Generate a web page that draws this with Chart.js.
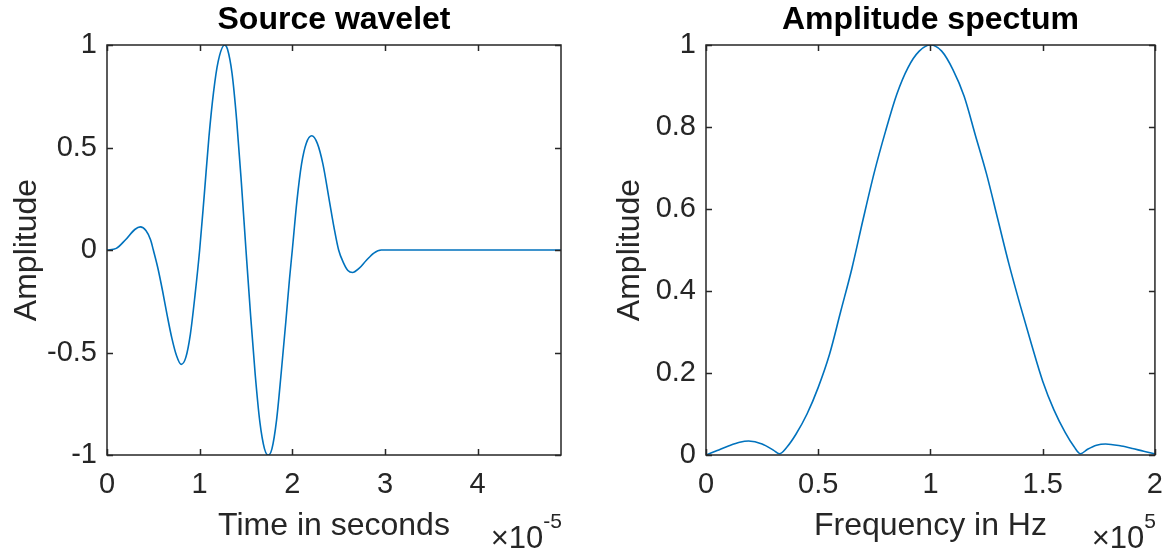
<!DOCTYPE html>
<html>
<head>
<meta charset="utf-8">
<title>Source wavelet / Amplitude spectum</title>
<script src="https://cdn.jsdelivr.net/npm/chart.js@4.4.1/dist/chart.umd.min.js"></script>
<style>
    html, body { margin: 0; padding: 0; background: #fff; }
    #wrap { position: relative; width: 1176px; height: 551px; }
    #wrap canvas { position: absolute; top: 0; }
    #wavelet-chart { left: 0; }
    #spectrum-chart { left: 588px; }
</style>
</head>
<body>
<div id="wrap">
    <canvas id="wavelet-chart" width="588" height="551"></canvas>
    <canvas id="spectrum-chart" width="588" height="551"></canvas>
</div>
<script>
// time in units of 1e-5 s (shown with the x10^-5 label)
const waveletTime = [
    0, 0.1, 0.2, 0.3, 0.36, 0.42, 0.47, 0.5, 0.55, 0.6, 0.65, 0.7, 0.75, 0.8, 0.85, 0.9, 0.95,
    1.0, 1.05, 1.1, 1.15, 1.2, 1.27, 1.3, 1.35, 1.4, 1.45, 1.5, 1.55, 1.6, 1.65, 1.7, 1.74,
    1.78, 1.83, 1.88, 1.93, 1.97, 2.0, 2.05, 2.1, 2.15, 2.21, 2.27, 2.33, 2.4, 2.45, 2.5,
    2.55, 2.6, 2.65, 2.72, 2.8, 2.88, 2.96, 3.5, 4.0, 4.5, 4.9,
];
const waveletAmplitude = [
    0, 0.008, 0.05, 0.1, 0.113, 0.095, 0.05, 0, -0.09, -0.2, -0.32, -0.43, -0.515, -0.558, -0.525, -0.41, -0.22,
    0, 0.27, 0.55, 0.77, 0.92, 1.0, 0.98, 0.86, 0.63, 0.33, 0, -0.32, -0.61, -0.84, -0.97, -1.0,
    -0.97, -0.83, -0.6, -0.35, -0.14, 0, 0.24, 0.42, 0.52, 0.557, 0.52, 0.42, 0.24, 0.11, 0,
    -0.06, -0.1, -0.11, -0.09, -0.05, -0.015, 0, 0, 0, 0, 0,
];
const waveletTicksX = [0, 1, 2, 3, 4];
const waveletTicksY = [-1, -0.5, 0, 0.5, 1];

// frequency in units of 1e5 Hz (shown with the x10^5 label)
const spectrumFreq = [
    0, 0.05, 0.1, 0.15, 0.19, 0.25, 0.3, 0.327, 0.36, 0.4, 0.45, 0.5, 0.55, 0.6, 0.65, 0.7,
    0.75, 0.8, 0.85, 0.9, 0.95, 1.0, 1.05, 1.1, 1.15, 1.2, 1.25, 1.3, 1.35, 1.4, 1.45, 1.5,
    1.55, 1.6, 1.64, 1.668, 1.7, 1.74, 1.78, 1.85, 1.9, 1.95, 2.0,
];
const spectrumAmplitude = [
    0, 0.011, 0.022, 0.031, 0.034, 0.027, 0.012, 0.003, 0.019, 0.05, 0.1, 0.165, 0.245, 0.35, 0.455, 0.575,
    0.69, 0.79, 0.88, 0.945, 0.985, 1.0, 0.985, 0.94, 0.875, 0.78, 0.685, 0.575, 0.465, 0.365, 0.27, 0.18,
    0.11, 0.055, 0.02, 0.003, 0.014, 0.024, 0.027, 0.022, 0.016, 0.009, 0.003,
];
const spectrumTicksX = [0, 0.5, 1, 1.5, 2];
const spectrumTicksY = [0, 0.2, 0.4, 0.6, 0.8, 1];

const FONT = "'Liberation Sans', Arial, Helvetica, sans-serif";
const AXIS_COLOR = "#262626";
const LINE_COLOR = "#0072BD";
const TICK_LEN = 6;

function toPoints(xs, ys) {
    return xs.map((x, i) => ({ x, y: ys[i] }));
}

// MATLAB-like box with inward ticks on all four sides, plus the exponent label
const boxAxes = {
    id: "boxAxes",
    afterDatasetsDraw(chart) {
        const { ctx, chartArea: a, scales: { x, y } } = chart;

        ctx.save();
        ctx.strokeStyle = AXIS_COLOR;
        ctx.lineWidth = 1.5;
        ctx.strokeRect(a.left, a.top, a.width, a.height);

        ctx.beginPath();
        x.ticks.forEach((t) => {
            const px = Math.round(x.getPixelForValue(t.value)) + 0.5;
            ctx.moveTo(px, a.bottom);
            ctx.lineTo(px, a.bottom - TICK_LEN);
            ctx.moveTo(px, a.top);
            ctx.lineTo(px, a.top + TICK_LEN);
        });
        y.ticks.forEach((t) => {
            const py = Math.round(y.getPixelForValue(t.value)) + 0.5;
            ctx.moveTo(a.left, py);
            ctx.lineTo(a.left + TICK_LEN, py);
            ctx.moveTo(a.right, py);
            ctx.lineTo(a.right - TICK_LEN, py);
        });
        ctx.stroke();
        ctx.restore();
    },
    afterDraw(chart, args, opts) {
        if (!opts.exponent) {
            return;
        }

        const { ctx, chartArea: a } = chart;
        const baseFont = `31px ${FONT}`;
        const supFont = `21px ${FONT}`;

        ctx.save();
        ctx.fillStyle = AXIS_COLOR;
        ctx.textBaseline = "alphabetic";
        ctx.font = supFont;
        const supWidth = ctx.measureText(opts.exponent).width;
        ctx.font = baseFont;
        const baseWidth = ctx.measureText("\u00d710").width;

        const right = a.right + 1;
        ctx.textAlign = "left";
        ctx.fillText("\u00d710", right - supWidth - baseWidth, 548);
        ctx.font = supFont;
        ctx.fillText(opts.exponent, right - supWidth, 528);
        ctx.restore();
    },
};

function makeChart(canvasId, cfg) {
    const canvas = document.getElementById(canvasId);

    return new Chart(canvas, {
        type: "scatter",
        data: {
            datasets: [
                {
                    data: toPoints(cfg.xs, cfg.ys),
                    showLine: true,
                    borderColor: LINE_COLOR,
                    borderWidth: 1.6,
                    pointRadius: 0,
                    cubicInterpolationMode: "monotone",
                    fill: false,
                },
            ],
        },
        options: {
            responsive: false,
            animation: false,
            layout: { padding: { top: 0, right: cfg.padRight, bottom: 0, left: 0 } },
            plugins: {
                legend: { display: false },
                tooltip: { enabled: false },
                title: {
                    display: true,
                    text: cfg.title,
                    fullSize: false,
                    color: "#000",
                    font: { family: FONT, size: 32, weight: "bold", lineHeight: 1.2 },
                    padding: { top: 1, bottom: 5.6 },
                },
                boxAxes: { exponent: cfg.exponent },
            },
            scales: {
                x: {
                    type: "linear",
                    min: cfg.xMin,
                    max: cfg.xMax,
                    grid: { display: false, drawTicks: false },
                    border: { display: false },
                    afterBuildTicks(scale) {
                        scale.ticks = cfg.ticksX.map((value) => ({ value }));
                    },
                    afterFit(scale) {
                        scale.height = 96;
                    },
                    ticks: {
                        color: AXIS_COLOR,
                        padding: 13,
                        maxRotation: 0,
                        font: { family: FONT, size: 29 },
                        callback(value) {
                            return String(value);
                        },
                    },
                    title: {
                        display: true,
                        text: cfg.xLabel,
                        color: AXIS_COLOR,
                        font: { family: FONT, size: 32, lineHeight: 1.2 },
                        padding: { top: 0, bottom: 6 },
                    },
                },
                y: {
                    type: "linear",
                    min: cfg.yMin,
                    max: cfg.yMax,
                    grid: { display: false, drawTicks: false },
                    border: { display: false },
                    afterBuildTicks(scale) {
                        scale.ticks = cfg.ticksY.map((value) => ({ value }));
                    },
                    afterFit(scale) {
                        scale.width = cfg.yWidth;
                    },
                    ticks: {
                        color: AXIS_COLOR,
                        padding: 10,
                        font: { family: FONT, size: 29 },
                        callback(value) {
                            return String(value);
                        },
                    },
                    title: {
                        display: true,
                        text: "Amplitude",
                        color: AXIS_COLOR,
                        font: { family: FONT, size: 32, lineHeight: 1.2 },
                        padding: { top: cfg.yTitlePad, bottom: 0 },
                    },
                },
            },
        },
        plugins: [boxAxes],
    });
}

makeChart("wavelet-chart", {
    xs: waveletTime,
    ys: waveletAmplitude,
    ticksX: waveletTicksX,
    ticksY: waveletTicksY,
    xMin: 0,
    xMax: 4.9,
    yMin: -1,
    yMax: 1,
    title: "Source wavelet",
    xLabel: "Time in seconds",
    exponent: "-5",
    yWidth: 107,
    yTitlePad: 8,
    padRight: 27,
});

makeChart("spectrum-chart", {
    xs: spectrumFreq,
    ys: spectrumAmplitude,
    ticksX: spectrumTicksX,
    ticksY: spectrumTicksY,
    xMin: 0,
    xMax: 2,
    yMin: 0,
    yMax: 1,
    title: "Amplitude spectum",
    xLabel: "Frequency in Hz",
    exponent: "5",
    yWidth: 118,
    yTitlePad: 23,
    padRight: 15,
});
</script>
</body>
</html>
